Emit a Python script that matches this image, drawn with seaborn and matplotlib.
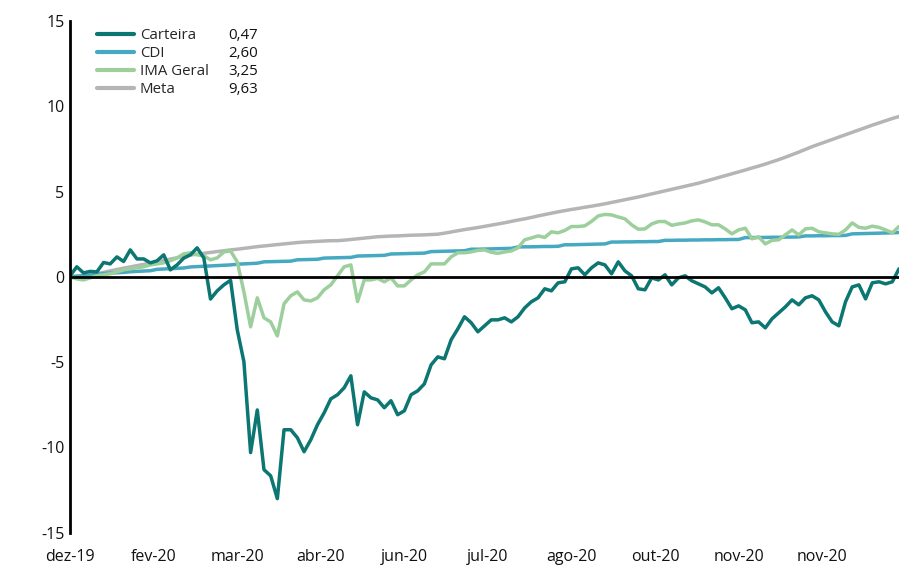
import numpy as np
import pandas as pd
import seaborn as sns
import matplotlib.pyplot as plt
from matplotlib.lines import Line2D

# x labels shown under the chart (one every 25 trading days)
tick_labels = ["dez-19", "fev-20", "mar-20", "abr-20", "jun-20",
               "jul-20", "ago-20", "out-20", "nov-20", "nov-20"]

series_names = ["Carteira", "CDI", "IMA Geral", "Meta"]
final_values = ["0,47", "2,60", "3,25", "9,63"]

# accumulated return (%), one point every 2 trading days
carteira = [0.06, 0.59, 0.23, 0.32, 0.29, 0.84, 0.76, 1.17, 0.90, 1.58,
            1.05, 1.05, 0.82, 0.94, 1.29, 0.41, 0.70, 1.10, 1.29, 1.70,
            1.11, -1.30, -0.82, -0.47, -0.20, -3.10, -4.98, -10.30, -7.80, -11.30,
            -11.66, -13.00, -8.96, -8.96, -9.43, -10.25, -9.55, -8.67, -7.97, -7.15,
            -6.91, -6.50, -5.80, -8.67, -6.74, -7.09, -7.21, -7.67, -7.26, -8.08,
            -7.85, -6.91, -6.68, -6.27, -5.16, -4.69, -4.80, -3.69, -3.05, -2.34,
            -2.69, -3.22, -2.87, -2.52, -2.52, -2.40, -2.64, -2.34, -1.82, -1.46,
            -1.23, -0.70, -0.82, -0.35, -0.29, 0.47, 0.53, 0.12, 0.53, 0.82,
            0.70, 0.18, 0.88, 0.35, 0.06, -0.70, -0.76, -0.06, -0.18, 0.12,
            -0.47, -0.06, 0.06, -0.23, -0.41, -0.59, -0.94, -0.64, -1.23, -1.87,
            -1.70, -1.93, -2.69, -2.64, -2.99, -2.46, -2.11, -1.76, -1.35, -1.64,
            -1.23, -1.11, -1.35, -2.05, -2.64, -2.87, -1.46, -0.59, -0.47, -1.29,
            -0.35, -0.29, -0.41, -0.29, 0.47]

cdi = [0.00, 0.03, 0.06, 0.10, 0.14,
       0.20, 0.22, 0.24, 0.26,
       0.30, 0.32, 0.34, 0.36,
       0.44, 0.46, 0.48, 0.50, 0.52,
       0.58, 0.60, 0.62, 0.64, 0.66, 0.68, 0.70,
       0.74, 0.76, 0.78, 0.80,
       0.88, 0.89, 0.90, 0.91, 0.92,
       1.00, 1.01, 1.02, 1.03,
       1.10, 1.11, 1.12, 1.13, 1.14,
       1.22, 1.23, 1.24, 1.25, 1.26,
       1.34, 1.35, 1.36, 1.37, 1.38, 1.39,
       1.48, 1.49, 1.50, 1.51, 1.52, 1.53,
       1.62, 1.62, 1.63, 1.64, 1.65, 1.66, 1.67,
       1.75, 1.76, 1.76, 1.77, 1.78, 1.78, 1.79,
       1.88, 1.88, 1.89, 1.90, 1.91, 1.92, 1.93,
       2.04, 2.04, 2.05, 2.05, 2.06, 2.06, 2.07, 2.07,
       2.14, 2.14, 2.15, 2.15, 2.16, 2.16, 2.17, 2.17, 2.18, 2.18, 2.19, 2.19,
       2.30, 2.30, 2.31, 2.31, 2.32, 2.32, 2.33, 2.33, 2.34,
       2.40, 2.40, 2.41, 2.41, 2.42, 2.42, 2.43,
       2.52, 2.53, 2.54, 2.55, 2.56, 2.57, 2.58, 2.60]

ima_geral = [0.00, -0.12, -0.18, -0.06, 0.06, 0.12, 0.18, 0.29, 0.41, 0.47,
             0.53, 0.59, 0.70, 0.76, 0.82, 0.94, 1.11, 1.35, 1.41, 1.29,
             1.23, 1.00, 1.11, 1.46, 1.52, 0.88, -0.88, -2.93, -1.23, -2.40,
             -2.64, -3.46, -1.58, -1.11, -0.88, -1.35, -1.41, -1.23, -0.76, -0.47,
             0.06, 0.59, 0.70, -1.45, -0.18, -0.18, -0.09, -0.29, -0.06, -0.53,
             -0.53, -0.18, 0.12, 0.29, 0.76, 0.76, 0.76, 1.17, 1.41, 1.41,
             1.46, 1.55, 1.58, 1.44, 1.38, 1.46, 1.52, 1.70, 2.17, 2.28,
             2.40, 2.31, 2.64, 2.58, 2.72, 2.95, 2.95, 2.99, 3.25, 3.57,
             3.66, 3.63, 3.51, 3.40, 3.05, 2.79, 2.81, 3.10, 3.24, 3.24,
             3.02, 3.10, 3.16, 3.28, 3.34, 3.22, 3.05, 3.05, 2.81, 2.52,
             2.75, 2.85, 2.23, 2.34, 1.93, 2.14, 2.17, 2.46, 2.75, 2.46,
             2.81, 2.85, 2.64, 2.58, 2.52, 2.49, 2.75, 3.16, 2.90, 2.85,
             2.97, 2.90, 2.75, 2.58, 2.95]

meta = [0.00, 0.05, 0.09, 0.12, 0.19, 0.26, 0.35, 0.43, 0.51, 0.58,
        0.66, 0.73, 0.81, 0.88, 0.96, 1.04, 1.12, 1.20, 1.28, 1.33,
        1.38, 1.43, 1.48, 1.53, 1.58, 1.62, 1.67, 1.72, 1.77, 1.81,
        1.85, 1.89, 1.93, 1.97, 2.01, 2.04, 2.06, 2.08, 2.10, 2.12,
        2.12, 2.15, 2.19, 2.23, 2.27, 2.31, 2.35, 2.37, 2.39, 2.40,
        2.42, 2.44, 2.45, 2.46, 2.48, 2.50, 2.56, 2.63, 2.70, 2.77,
        2.83, 2.89, 2.96, 3.03, 3.10, 3.17, 3.25, 3.33, 3.40, 3.48,
        3.57, 3.65, 3.73, 3.81, 3.88, 3.95, 4.01, 4.08, 4.14, 4.21,
        4.28, 4.36, 4.44, 4.52, 4.60, 4.68, 4.77, 4.86, 4.95, 5.04,
        5.13, 5.22, 5.31, 5.40, 5.49, 5.60, 5.71, 5.82, 5.93, 6.04,
        6.15, 6.26, 6.38, 6.49, 6.61, 6.74, 6.87, 7.01, 7.16, 7.31,
        7.47, 7.63, 7.77, 7.91, 8.05, 8.19, 8.33, 8.47, 8.61, 8.75,
        8.89, 9.02, 9.15, 9.28, 9.40]

days = np.arange(len(carteira)) * 2

df = pd.DataFrame({"dia": days, "Carteira": carteira, "CDI": cdi,
                   "IMA Geral": ima_geral, "Meta": meta})
df = df.melt(id_vars="dia", var_name="serie", value_name="retorno")

sns.set_theme(style="white")
plt.rcParams["font.family"] = ["Open Sans", "DejaVu Sans"]
plt.rcParams["axes.unicode_minus"] = False

colors = {"Carteira": "#0b7672", "CDI": "#46a9c1",
          "IMA Geral": "#9ccf9c", "Meta": "#b5b5b8"}

fig = plt.figure(figsize=(8.99, 5.65), dpi=100)
ax = fig.add_axes([0.078, 0.057, 0.922, 0.906])

sns.lineplot(data=df, x="dia", y="retorno", hue="serie",
             hue_order=["Meta", "CDI", "IMA Geral", "Carteira"],
             palette=colors, linewidth=2.5, legend=False, ax=ax)

ax.axhline(0, color="black", linewidth=2, zorder=5)

ax.set_xlim(0, days[-1])
ax.set_ylim(-15, 15)
ax.set_xticks(np.arange(len(tick_labels)) * 25)
ax.set_xticklabels(tick_labels)
ax.set_yticks([-15, -10, -5, 0, 5, 10, 15])
ax.set_xlabel("")
ax.set_ylabel("")
ax.tick_params(axis="y", length=0, pad=4, labelsize=11.5, labelcolor="#111111")
ax.tick_params(axis="x", length=0, pad=12, labelsize=11.5, labelcolor="#111111")

for side in ["top", "right", "bottom"]:
    ax.spines[side].set_visible(False)
ax.spines["left"].set_color("black")
ax.spines["left"].set_linewidth(2)

# legend with the final value of each series in a second column
handles = [Line2D([], [], color=colors[n], linewidth=3) for n in series_names]
leg = ax.legend(handles, series_names, loc="upper left",
                bbox_to_anchor=(0.0326, 0.986), frameon=False, fontsize=10.8,
                borderpad=0, borderaxespad=0, handlelength=2.45,
                handletextpad=0.4, labelspacing=0.2)

fig.canvas.draw()
for txt, val in zip(leg.get_texts(), final_values):
    bb = txt.get_window_extent()
    y_ax = ax.transAxes.inverted().transform((0, (bb.y0 + bb.y1) / 2))[1]
    ax.text(0.1906, y_ax, val, transform=ax.transAxes, va="center", ha="left",
            fontsize=10.8, color="#111111")

fig.savefig("out.png", dpi=100)
